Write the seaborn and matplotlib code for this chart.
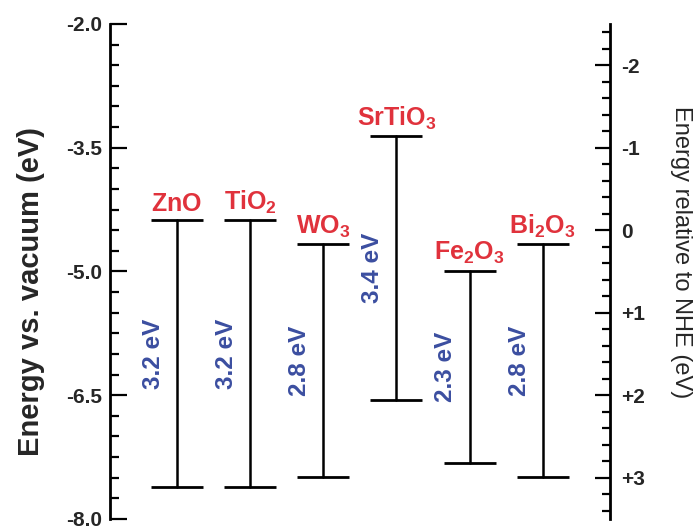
import numpy as np
import pandas as pd
import matplotlib
matplotlib.use("Agg")
import matplotlib.pyplot as plt
import seaborn as sns
from matplotlib.ticker import MultipleLocator, FixedLocator

# ---- data ----
materials = ["ZnO", "TiO2", "WO3", "SrTiO3", "Fe2O3", "Bi2O3"]
material_labels = [r"$\mathbf{ZnO}$", r"$\mathbf{TiO_2}$", r"$\mathbf{WO_3}$",
                   r"$\mathbf{SrTiO_3}$", r"$\mathbf{Fe_2O_3}$", r"$\mathbf{Bi_2O_3}$"]
cb_edge = [-4.38, -4.38, -4.67, -3.36, -4.99, -4.67]   # eV vs vacuum (top)
vb_edge = [-7.61, -7.61, -7.49, -6.56, -7.32, -7.49]   # eV vs vacuum (bottom)
gap_labels = ["3.2 eV", "3.2 eV", "2.8 eV", "3.4 eV", "2.3 eV", "2.8 eV"]
left_ticks = [-2.0, -3.5, -5.0, -6.5, -8.0]
right_ticks = [-2, -1, 0, 1, 2, 3]
right_ticklabels = ["-2", "-1", "0", "+1", "+2", "+3"]
nhe_offset = 4.5  # E(NHE) = -E(vac) - 4.5

sns.set_theme(style="white")
plt.rcParams["font.family"] = ["Liberation Sans", "DejaVu Sans"]
plt.rcParams["mathtext.fontset"] = "custom"
plt.rcParams["mathtext.rm"] = "Liberation Sans"
plt.rcParams["mathtext.bf"] = "Liberation Sans:bold"

RED = "#e0323c"
BLUE = "#3b4ea0"

pos = np.arange(len(materials))
df = pd.DataFrame({
    "material": materials * 2,
    "x": np.concatenate([pos, pos]),
    "energy": cb_edge + vb_edge,
    "edge": ["CB"] * len(materials) + ["VB"] * len(materials),
})

fig = plt.figure(figsize=(6.96, 5.27), dpi=100)
ax = fig.add_axes([0.158, 0.0152, 0.718, 0.9393])

# vertical lines
sns.lineplot(data=df, x="x", y="energy", units="material", estimator=None,
             color="black", lw=1.8, ax=ax, legend=False, sort=False)
# caps
sns.scatterplot(data=df, x="x", y="energy", marker="_", s=38**2,
                color="black", linewidth=2.0, ax=ax, legend=False, zorder=3)

for i in range(len(materials)):
    ax.annotate(material_labels[i], (pos[i], cb_edge[i]), xytext=(0, 3),
                textcoords="offset points", ha="center", va="bottom",
                color=RED, fontsize=18, fontweight="bold")
    mid = (cb_edge[i] + vb_edge[i]) / 2
    ax.annotate(gap_labels[i], (pos[i], mid), xytext=(-17, 0),
                textcoords="offset points", ha="center", va="center",
                rotation=90, color=BLUE, fontsize=17.5, fontweight="bold",
                family=["Liberation Sans Narrow", "Liberation Sans", "DejaVu Sans"])

ax.set_xlim(-0.915, 5.915)
ax.set_ylim(-8.0, -2.0)
ax.set_xlabel("")
ax.set_xticks([])
ax.yaxis.set_major_locator(FixedLocator(left_ticks))
ax.yaxis.set_minor_locator(MultipleLocator(0.25))
ax.set_yticklabels([f"{t:.1f}" for t in left_ticks], fontsize=15, fontweight="bold")
ax.tick_params(axis="y", which="major", direction="in", length=12, width=1.6,
               color="black", left=True, pad=6)
ax.tick_params(axis="y", which="minor", direction="in", length=6.5, width=1.6,
               color="black", left=True)
for s in ["top", "bottom", "right"]:
    ax.spines[s].set_visible(False)
ax.spines["left"].set_color("black")
ax.spines["left"].set_linewidth(2.0)
ax.set_ylabel("Energy vs. vacuum (eV)", fontsize=21, fontweight="bold")
ax.yaxis.set_label_coords(-0.13, 0.46)
ax.set_facecolor("none")

ax2 = ax.twinx()
ax2.set_ylim(-(-8.0) - nhe_offset, -(-2.0) - nhe_offset)
ax2.yaxis.set_major_locator(FixedLocator(right_ticks))
ax2.yaxis.set_minor_locator(MultipleLocator(0.2))
ax2.set_yticklabels(right_ticklabels, fontsize=15, fontweight="bold")
ax2.tick_params(axis="y", which="major", direction="in", length=11, width=1.6,
                color="black", right=True, pad=8)
ax2.tick_params(axis="y", which="minor", direction="in", length=6, width=1.6,
                color="black", right=True)
for s in ["top", "bottom", "left"]:
    ax2.spines[s].set_visible(False)
ax2.spines["right"].set_color("black")
ax2.spines["right"].set_linewidth(2.0)
ax2.set_ylabel("Energy relative to NHE (eV)", fontsize=17, rotation=-90,
               va="center")
ax2.yaxis.set_label_coords(1.142, 0.54)
ax2.grid(False)
ax.grid(False)

fig.savefig("out.png", dpi=100)
